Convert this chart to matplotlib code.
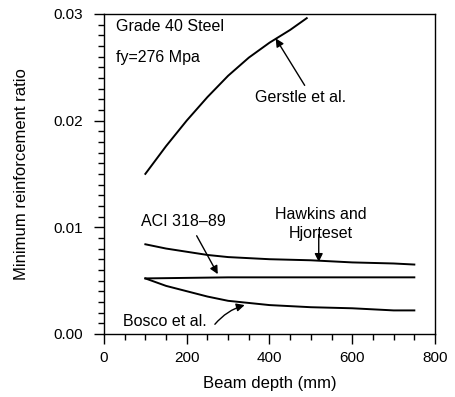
import matplotlib
matplotlib.use("Agg")
import matplotlib.pyplot as plt
from matplotlib.ticker import MultipleLocator

plt.rcParams['font.family'] = ['Liberation Sans', 'DejaVu Sans']

# Gerstle et al.
gerstle_x = [100, 150, 200, 250, 300, 350, 400, 450, 490]
gerstle_y = [0.0150, 0.0176, 0.0200, 0.0222, 0.0242, 0.0259, 0.0273, 0.0285, 0.0296]

# Hawkins and Hjorteset
hawkins_x = [100, 150, 200, 250, 300, 400, 500, 600, 700, 750]
hawkins_y = [0.0084, 0.0080, 0.0077, 0.0074, 0.0072, 0.0070, 0.0069, 0.0067, 0.0066, 0.0065]

# ACI 318-89
aci_x = [100, 300, 500, 750]
aci_y = [0.0052, 0.0053, 0.0053, 0.0053]

# Bosco et al.
bosco_x = [100, 150, 200, 250, 300, 400, 500, 600, 700, 750]
bosco_y = [0.0052, 0.0045, 0.0040, 0.0035, 0.0031, 0.0027, 0.0025, 0.0024, 0.0022, 0.0022]

fig = plt.figure(figsize=(4.56, 3.97), dpi=100)
ax = fig.add_axes([0.228, 0.159, 0.726, 0.806])

for xs, ys in [(gerstle_x, gerstle_y), (hawkins_x, hawkins_y),
               (aci_x, aci_y), (bosco_x, bosco_y)]:
    ax.plot(xs, ys, color='black', lw=1.4)

ax.set_xlim(0, 800)
ax.set_ylim(0, 0.03)
ax.xaxis.set_major_locator(MultipleLocator(200))
ax.xaxis.set_minor_locator(MultipleLocator(50))
ax.yaxis.set_major_locator(MultipleLocator(0.01))
ax.yaxis.set_minor_locator(MultipleLocator(0.001))
ax.yaxis.set_major_formatter(matplotlib.ticker.FormatStrFormatter('%.2f'))
ax.tick_params(which='major', direction='out', length=7, width=1, labelsize=11)
ax.tick_params(axis='y', which='major', pad=8)
ax.tick_params(axis='x', which='major', pad=5)
ax.tick_params(which='minor', direction='out', length=4, width=1)
for s in ax.spines.values():
    s.set_linewidth(1)

ax.set_xlabel('Beam depth (mm)', fontsize=12, labelpad=8)
ax.set_ylabel('Minimum reinforcement ratio', fontsize=12, labelpad=18)

ax.text(30, 0.0288, 'Grade 40 Steel', fontsize=11.5, va='center', ha='left')
ax.text(30, 0.0259, 'fy=276 Mpa', fontsize=11.5, va='center', ha='left')

arrow = dict(arrowstyle='-|>', color='black', lw=1, mutation_scale=12, shrinkA=0, shrinkB=0)
ax.annotate('', xy=(415, 0.0277), xytext=(485, 0.0233), arrowprops=arrow)
ax.text(475, 0.0222, 'Gerstle et al.', fontsize=11.5, ha='center', va='center')

ax.text(524, 0.0103, 'Hawkins and\nHjorteset', fontsize=11.5, ha='center', va='center',
        linespacing=1.3)
ax.annotate('', xy=(519, 0.00675), xytext=(519, 0.0093), arrowprops=arrow)

ax.text(191, 0.0105, 'ACI 318\u201389', fontsize=11.5, ha='center', va='center')
ax.annotate('', xy=(275, 0.0056), xytext=(224, 0.0092), arrowprops=arrow)

ax.text(147, 0.0012, 'Bosco et al.', fontsize=11.5, ha='center', va='center')
ax.annotate('', xy=(340, 0.0027), xytext=(268, 0.0009),
            arrowprops=dict(arrow, connectionstyle='arc3,rad=-0.15'))

fig.savefig('out.png', dpi=100)
